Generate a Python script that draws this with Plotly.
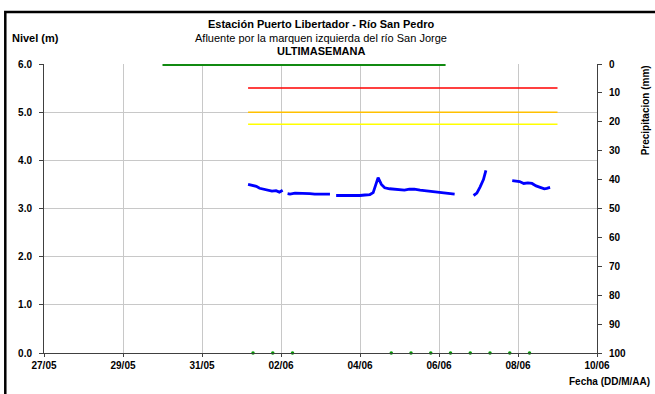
import plotly.graph_objects as go

# ---- data ----
level_time = [
    "2014-06-01 04:00", "2014-06-01 06:00", "2014-06-01 09:00", "2014-06-01 11:00", "2014-06-01 14:00",
    "2014-06-01 16:00", "2014-06-01 18:30", "2014-06-01 21:00", "2014-06-01 23:00", "2014-06-02 01:00",
    "2014-06-02 02:30",
    "2014-06-02 04:00", "2014-06-02 05:30", "2014-06-02 08:30", "2014-06-02 11:30", "2014-06-02 14:30",
    "2014-06-02 17:30", "2014-06-02 20:30", "2014-06-02 23:30", "2014-06-03 02:30", "2014-06-03 05:45",
    "2014-06-03 07:30",
    "2014-06-03 09:30", "2014-06-03 12:00", "2014-06-03 15:00", "2014-06-03 18:00", "2014-06-03 21:00",
    "2014-06-04 00:00", "2014-06-04 03:00", "2014-06-04 06:00", "2014-06-04 08:00", "2014-06-04 10:00",
    "2014-06-04 11:00", "2014-06-04 13:00", "2014-06-04 15:00", "2014-06-04 18:00", "2014-06-04 21:00",
    "2014-06-05 00:00", "2014-06-05 03:00", "2014-06-05 06:00", "2014-06-05 09:00", "2014-06-05 12:30",
    "2014-06-05 15:30", "2014-06-05 18:30", "2014-06-05 21:30", "2014-06-06 00:30", "2014-06-06 03:30",
    "2014-06-06 06:30", "2014-06-06 09:30",
    "2014-06-06 15:00",
    "2014-06-06 21:00", "2014-06-06 23:00", "2014-06-07 01:00", "2014-06-07 03:00", "2014-06-07 04:30",
    "2014-06-07 12:00",
    "2014-06-07 20:30", "2014-06-07 23:00", "2014-06-08 01:00", "2014-06-08 03:30", "2014-06-08 06:00",
    "2014-06-08 08:30", "2014-06-08 11:00", "2014-06-08 13:30", "2014-06-08 16:00", "2014-06-08 17:30",
    "2014-06-08 19:30",
]
level_value = [
    3.50, 3.49, 3.46, 3.42, 3.40,
    3.38, 3.36, 3.37, 3.34, 3.38,
    None,
    3.31, 3.30, 3.32, 3.32, 3.31,
    3.31, 3.30, 3.30, 3.30, 3.30,
    None,
    3.27, 3.27, 3.26, 3.27, 3.26,
    3.27, 3.28, 3.29, 3.33, 3.55,
    3.64, 3.50, 3.43, 3.41, 3.40,
    3.40, 3.38, 3.40, 3.40, 3.38,
    3.37, 3.35, 3.34, 3.33, 3.33,
    3.31, 3.30,
    None,
    3.27, 3.32, 3.45, 3.60, 3.79,
    None,
    3.58, 3.57, 3.56, 3.52, 3.53,
    3.52, 3.47, 3.44, 3.41, 3.42,
    3.44,
]

precip_time = ["2014-05-30 00:00", "2014-06-06 04:00"]
precip_value = [0, 0]

obs_time = ["2014-06-01 07:00", "2014-06-01 19:00", "2014-06-02 07:00", "2014-06-04 19:00",
            "2014-06-05 07:00", "2014-06-05 19:00", "2014-06-06 07:00", "2014-06-06 19:00",
            "2014-06-07 07:00", "2014-06-07 19:00", "2014-06-08 07:00"]
obs_value = [0.0] * len(obs_time)

threshold_time = ["2014-06-01 04:00", "2014-06-09 00:00"]
threshold_red = [5.5, 5.5]
threshold_orange = [5.0, 5.0]
threshold_yellow = [4.75, 4.75]

x_range = ["2014-05-27", "2014-06-10"]

FONT = "Liberation Sans, Arial, sans-serif"

fig = go.Figure()
fig.add_trace(go.Scatter(x=threshold_time, y=threshold_red, mode="lines",
                         line=dict(color="#ff0000", width=1.5), showlegend=False))
fig.add_trace(go.Scatter(x=threshold_time, y=threshold_orange, mode="lines",
                         line=dict(color="#ffc000", width=1.5), showlegend=False))
fig.add_trace(go.Scatter(x=threshold_time, y=threshold_yellow, mode="lines",
                         line=dict(color="#ffff00", width=1.5), showlegend=False))
fig.add_trace(go.Scatter(x=level_time, y=level_value, mode="lines", connectgaps=False,
                         line=dict(color="#0000ff", width=2.8), showlegend=False))
fig.add_trace(go.Scatter(x=obs_time, y=obs_value, mode="markers", cliponaxis=False,
                         marker=dict(color="#009900", size=3.5), showlegend=False))
fig.add_trace(go.Scatter(x=precip_time, y=precip_value, mode="lines", yaxis="y2", cliponaxis=False,
                         line=dict(color="#118a11", width=4), showlegend=False))

fig.update_layout(
    width=655, height=394,
    margin=dict(l=44, r=58, t=64, b=41),
    paper_bgcolor="white", plot_bgcolor="white",
    font=dict(family=FONT, color="black"),
    xaxis=dict(range=x_range, type="date", tickformat="%d/%m", dtick=172800000,
               tick0="2014-05-27", showgrid=True, gridcolor="#c8c8c8", gridwidth=1,
               showline=True, linecolor="#404040", linewidth=1,
               ticks="outside", ticklen=3, tickcolor="#404040",
               tickfont=dict(family=FONT, size=10, color="black", weight="bold"),
               zeroline=False),
    yaxis=dict(range=[0, 6], dtick=1, tickformat=".1f", showgrid=True, gridcolor="#c8c8c8",
               showline=True, linecolor="#404040", linewidth=1,
               ticks="outside", ticklen=4, tickcolor="#404040", zeroline=False,
               ticklabelstandoff=5,
               tickfont=dict(family=FONT, size=10, color="black", weight="bold")),
    yaxis2=dict(range=[100, 0], dtick=10, overlaying="y", side="right", showgrid=False,
                showline=True, linecolor="#404040", linewidth=1,
                ticks="outside", ticklen=4, tickcolor="#404040", zeroline=False,
                ticklabelstandoff=5,
                tickfont=dict(family=FONT, size=10, color="black", weight="bold")),
    annotations=[
        dict(text="<b>Estación Puerto Libertador - Río San Pedro</b>", xref="paper", yref="paper",
             x=0.5, y=1.138, xanchor="center", yanchor="middle", showarrow=False,
             font=dict(size=11, family=FONT)),
        dict(text="Afluente por la marquen izquierda del río San Jorge", xref="paper", yref="paper",
             x=0.5, y=1.09, xanchor="center", yanchor="middle", showarrow=False,
             font=dict(size=11, family=FONT)),
        dict(text="<b>ULTIMASEMANA</b>", xref="paper", yref="paper",
             x=0.5, y=1.045, xanchor="center", yanchor="middle", showarrow=False,
             font=dict(size=11, family=FONT)),
        dict(text="<b>Nivel (m)</b>", xref="paper", yref="paper", x=-0.062, y=1.09,
             xanchor="left", yanchor="middle", showarrow=False, font=dict(size=11, family=FONT)),
        dict(text="<b>Fecha (DD/M/AA)</b>", xref="paper", yref="paper", x=1.099, y=-0.1,
             xanchor="right", yanchor="middle", showarrow=False, font=dict(size=10, family=FONT)),
        dict(text="<b>Precipitacion (mm)</b>", xref="paper", yref="paper", x=1.087, y=0.84,
             xanchor="center", yanchor="middle", textangle=-90, showarrow=False,
             font=dict(size=10, family=FONT)),
    ],
    shapes=[
        dict(type="rect", xref="paper", yref="paper", x0=-0.07, y0=-0.3, x1=1.2, y1=1.18,
             line=dict(color="black", width=2.5), layer="below"),
    ],
)

fig.write_html("out.html", config={"displayModeBar": False},
               post_script="document.body.style.margin='0';")
